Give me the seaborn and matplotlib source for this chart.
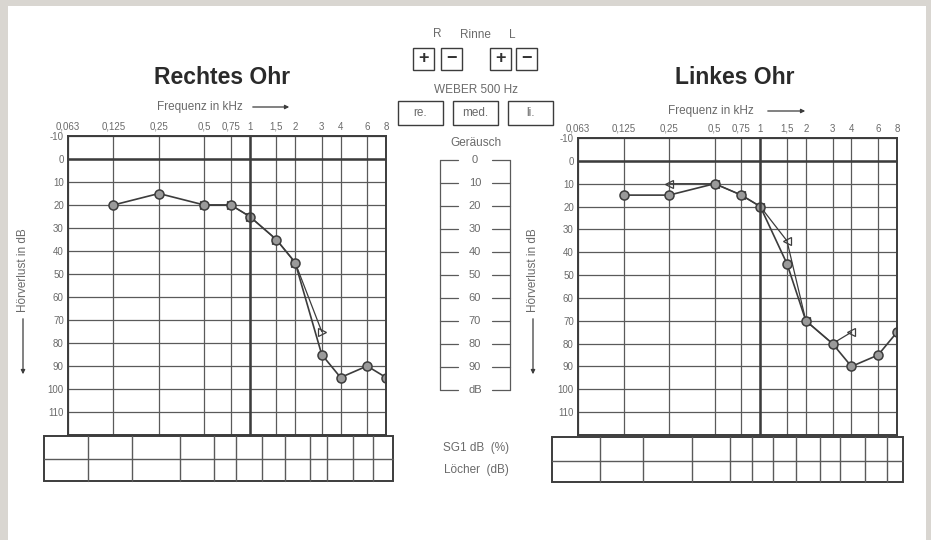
# audiogramm nachbau (Rechtes / Linkes Ohr)
import matplotlib
matplotlib.use("Agg")
import matplotlib.pyplot as plt
from matplotlib.patches import Rectangle
from matplotlib.ticker import NullLocator
import seaborn as sns
import pandas as pd

# ---------------------------------------------------------------
# Daten
# ---------------------------------------------------------------
freq_khz = [0.0625, 0.125, 0.25, 0.5, 0.75, 1, 1.5, 2, 3, 4, 6, 8]
freq_labels = ["0,063", "0,125", "0,25", "0,5", "0,75", "1", "1,5", "2", "3", "4", "6", "8"]
db_ticks = [-10, 0, 10, 20, 30, 40, 50, 60, 70, 80, 90, 100, 110]
db_labels = ["-10", "0", "10", "20", "30", "40", "50", "60", "70", "80", "90", "100", "110"]

# rechtes Ohr
rechts_luft_f = [0.125, 0.25, 0.5, 0.75, 1, 1.5, 2, 3, 4, 6, 8]
rechts_luft_db = [20, 15, 20, 20, 25, 35, 45, 85, 95, 90, 95]
rechts_knochen_f = [0.5, 0.75, 1, 1.5, 2, 3]
rechts_knochen_db = [20, 20, 25, 35, 45, 75]

# linkes Ohr
links_luft_f = [0.125, 0.25, 0.5, 0.75, 1, 1.5, 2, 3, 4, 6, 8]
links_luft_db = [15, 15, 10, 15, 20, 45, 70, 80, 90, 85, 75]
links_knochen_f = [0.25, 0.5, 0.75, 1, 1.5, 2, 3, 4]
links_knochen_db = [10, 10, 15, 20, 35, 70, 80, 75]

# Geraeusch-Skala in der Mitte
geraeusch_labels = ["0", "10", "20", "30", "40", "50", "60", "70", "80", "90", "dB"]

# Tabellen unter den Audiogrammen (Spaltengrenzen in px)
tab_links_cols = [88, 132, 180, 214, 236, 262, 285, 310, 327, 353, 373]
tab_rechts_cols = [600, 643, 692, 730, 752, 773, 796, 820, 840, 865, 887]

# ---------------------------------------------------------------
# Stil
# ---------------------------------------------------------------
sns.set_style("white")
plt.rcParams["font.family"] = ["Liberation Sans", "DejaVu Sans"]

W, H = 931, 540
DARK = "#3c3c3c"
GRID = "#5a5a5a"
TXT = "#6a6a6a"
KLEIN = 8.5

fig = plt.figure(figsize=(W / 100, H / 100), dpi=100)
fig.patch.set_facecolor("white")

# Leinwand in Pixelkoordinaten (y nach unten)
cv = fig.add_axes([0, 0, 1, 1], zorder=0)
cv.set_xlim(0, W)
cv.set_ylim(H, 0)
cv.axis("off")

# grauer Rand des Scans
for r in [(0, 0, 8, H), (0, 0, W, 6), (926, 0, 5, H)]:
    cv.add_patch(Rectangle((r[0], r[1]), r[2], r[3], color="#d9d6d1", lw=0))


def audiogramm(rect_px, luft_f, luft_db, kn_f, kn_db, kn_marker):
    x0, y0, x1, y1 = rect_px
    ax = fig.add_axes([x0 / W, (H - y1) / H, (x1 - x0) / W, (y1 - y0) / H], zorder=2)
    ax.set_facecolor("none")
    ax.set_xscale("log", base=2)
    ax.set_xlim(0.0625, 8)
    ax.set_ylim(120, -10)

    luft = pd.DataFrame({"f": luft_f, "db": luft_db})
    knochen = pd.DataFrame({"f": kn_f, "db": kn_db})
    sns.lineplot(data=knochen, x="f", y="db", ax=ax, sort=False, estimator=None,
                 color=DARK, lw=0.9, marker=kn_marker, markersize=6,
                 markerfacecolor="none", markeredgecolor=DARK, markeredgewidth=0.9)
    sns.lineplot(data=luft, x="f", y="db", ax=ax, sort=False, estimator=None,
                 color=DARK, lw=1.2, marker="o", markersize=6.5,
                 markerfacecolor="#9a9a9a", markeredgecolor=DARK, markeredgewidth=1.1)

    ax.set_xticks(freq_khz)
    ax.set_xticklabels(freq_labels)
    ax.xaxis.set_minor_locator(NullLocator())
    ax.set_yticks(db_ticks)
    ax.set_yticklabels(db_labels)
    ax.xaxis.tick_top()
    ax.tick_params(axis="both", length=0, labelsize=7, labelcolor=TXT, pad=3)
    ax.grid(True, color=GRID, lw=0.9)
    ax.axvline(1, color=DARK, lw=1.8)
    ax.axhline(0, color=DARK, lw=1.8)
    ax.set_xlabel("")
    ax.set_ylabel("")
    for s in ax.spines.values():
        s.set_visible(True)
        s.set_color(DARK)
        s.set_linewidth(1.4)
    return ax


audiogramm((68, 136, 386, 435), rechts_luft_f, rechts_luft_db,
           rechts_knochen_f, rechts_knochen_db, ">")
audiogramm((578, 138, 897, 435), links_luft_f, links_luft_db,
           links_knochen_f, links_knochen_db, "<")

# Titel
cv.text(222, 77, "Rechtes Ohr", ha="center", va="center", fontsize=16.5,
        fontweight="bold", color="#2a2a2a")
cv.text(735, 78, "Linkes Ohr", ha="center", va="center", fontsize=16.5,
        fontweight="bold", color="#2a2a2a")

# Frequenz-Beschriftung mit Pfeil
for tx, ax0, ax1, ty in [(200, 250, 292, 107), (711, 765, 808, 111)]:
    cv.text(tx, ty, "Frequenz in kHz", ha="center", va="center", fontsize=KLEIN, color=TXT)
    cv.annotate("", xy=(ax1, ty), xytext=(ax0, ty),
                arrowprops=dict(arrowstyle="-|>", color=DARK, lw=0.9,
                                mutation_scale=6))

# Hoerverlust-Beschriftung mit Pfeil
for lx in [23, 533]:
    cv.text(lx, 270, "Hörverlust in dB", ha="center", va="center", rotation=90,
            fontsize=KLEIN, color=TXT)
    cv.annotate("", xy=(lx, 377), xytext=(lx, 316),
                arrowprops=dict(arrowstyle="-|>", color=DARK, lw=0.9,
                                mutation_scale=6))

# Rinne
cv.text(437, 34, "R", ha="center", va="center", fontsize=KLEIN, color=TXT)
cv.text(475, 35, "Rinne", ha="center", va="center", fontsize=KLEIN, color=TXT)
cv.text(512, 35, "L", ha="center", va="center", fontsize=KLEIN, color=TXT)
for bx, zeichen in [(413, "+"), (441, "−"), (490, "+"), (516, "−")]:
    cv.add_patch(Rectangle((bx, 48), 21, 22, fill=False, ec=DARK, lw=1.0))
    cv.text(bx + 10.5, 59, zeichen, ha="center", va="center", fontsize=13,
            fontweight="bold", color="#333333")

# Weber
cv.text(476, 90, "WEBER 500 Hz", ha="center", va="center", fontsize=KLEIN, color=TXT)
for bx, bt in [(398, "re."), (453, "med."), (508, "li.")]:
    cv.add_patch(Rectangle((bx, 101), 45, 24, fill=False, ec=DARK, lw=1.0))
    cv.text(bx + 22.5, 113, bt, ha="center", va="center", fontsize=KLEIN, color=TXT)

# Geraeusch-Skala
cv.text(476, 143, "Geräusch", ha="center", va="center", fontsize=KLEIN, color=TXT)
cv.plot([440, 440], [160, 390], color=GRID, lw=0.9)
cv.plot([510, 510], [160, 390], color=GRID, lw=0.9)
for i, lab in enumerate(geraeusch_labels):
    gy = 160 + 23 * i
    cv.plot([440, 458], [gy, gy], color=GRID, lw=0.9)
    cv.plot([492, 510], [gy, gy], color=GRID, lw=0.9)
    cv.text(475, gy, lab, ha="center", va="center", fontsize=8, color=TXT)

# Tabellen
for tx0, tx1, ty0, ty1, ym, cols in [(44, 393, 436, 481, 459, tab_links_cols),
                                     (552, 903, 437, 482, 461, tab_rechts_cols)]:
    cv.add_patch(Rectangle((tx0, ty0), tx1 - tx0, ty1 - ty0, fill=False, ec=DARK, lw=1.4))
    cv.plot([tx0, tx1], [ym, ym], color=GRID, lw=1.0)
    for cx in cols:
        cv.plot([cx, cx], [ty0, ty1], color=GRID, lw=1.0)

cv.text(476, 448, "SG1 dB  (%)", ha="center", va="center", fontsize=KLEIN, color=TXT)
cv.text(476, 470, "Löcher  (dB)", ha="center", va="center", fontsize=KLEIN, color=TXT)

fig.savefig("out.png", dpi=100, facecolor=fig.get_facecolor())
